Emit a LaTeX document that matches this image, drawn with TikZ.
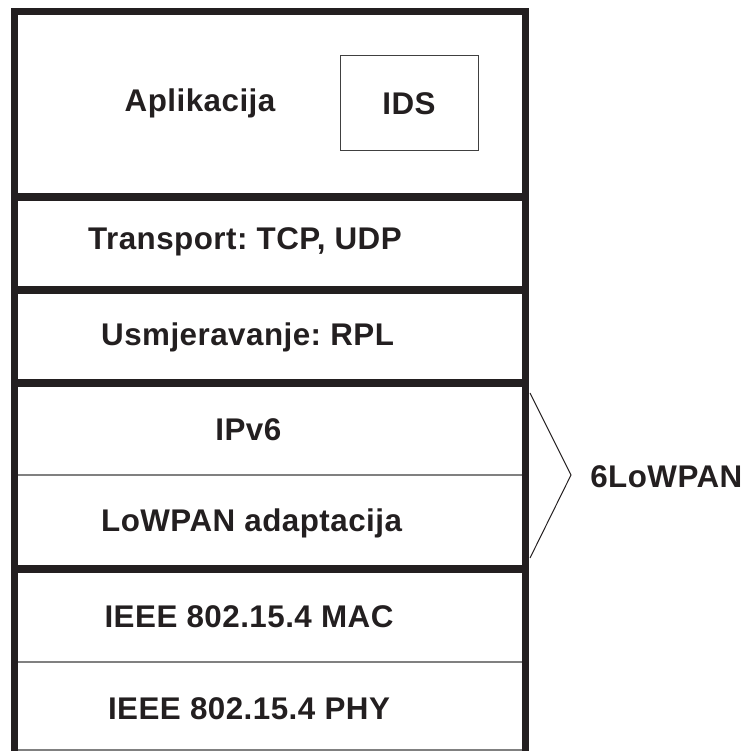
\documentclass[tikz,border=0pt]{standalone}
\usepackage{fontspec}
\setmainfont{Liberation Sans}[LetterSpace=1.5]
\usepackage{xcolor}
\usepackage{tikz}
\usetikzlibrary{positioning}
\definecolor{ink}{RGB}{35,31,32}
\frenchspacing

\begin{document}
\begin{tikzpicture}[
  lay/.style={font=\bfseries\fontsize{22.3}{26}\selectfont, text=ink,
              anchor=base, inner sep=0pt},
  sep/.style={draw=ink, line width=5pt},
  sub/.style={draw=black!50, line width=0.8pt},
  idsbox/.style={draw=black!75, line width=0.7pt, minimum width=3.45cm,
                 minimum height=2.375cm, font=\bfseries\fontsize{22.3}{26}\selectfont,
                 text=ink, inner sep=0pt},
  brc/.style={draw=ink, line width=0.7pt}]
\useasboundingbox (0,0) rectangle (18.65,18.775);
% --- thin splits inside layers ---
\draw[sub] (0.36,6.9)   -- (13.14,6.9);
\draw[sub] (0.36,2.225) -- (13.14,2.225);
\draw[sub] (0.36,0.025) -- (13.14,0.025);
% --- stack frame and layer borders ---
\draw[sep] (0.3625,0) -- (0.3625,18.4875) -- (13.1375,18.4875) -- (13.1375,0);
\draw[sep] (0.3625,13.85)  -- (13.1375,13.85);
\draw[sep] (0.3625,11.525) -- (13.1375,11.525);
\draw[sep] (0.3625,9.2)    -- (13.1375,9.2);
\draw[sep] (0.3625,4.55)   -- (13.1375,4.55);
% --- layer names ---
\node[lay] (app)   at (5.0,15.975)  {Aplikacija};
\node[idsbox] (ids) at (10.225,16.19) {IDS};
\node[lay] (trans) at (6.125,12.525) {Transport: TCP, UDP};
\node[lay] (rpl)   at (6.19,10.125)  {Usmjeravanje: RPL};
\node[lay] (ipv6)  at (6.21,7.75)    {IPv6};
\node[lay] (adapt) at (6.29,5.475)   {LoWPAN adaptacija};
\node[lay] (mac)   at (6.225,3.075)  {IEEE 802.15.4 MAC};
\node[lay] (phy)   at (6.225,0.775)  {IEEE 802.15.4 PHY};
% --- 6LoWPAN bracket ---
\coordinate (bt) at (13.25,8.95);
\coordinate (bm) at (14.275,6.9);
\coordinate (bb) at (13.25,4.825);
\draw[brc] (bt) -- (bm) -- (bb);
\node[lay, anchor=base west] (lowpan) at (14.75,6.575) {6LoWPAN};
\end{tikzpicture}
\end{document}
